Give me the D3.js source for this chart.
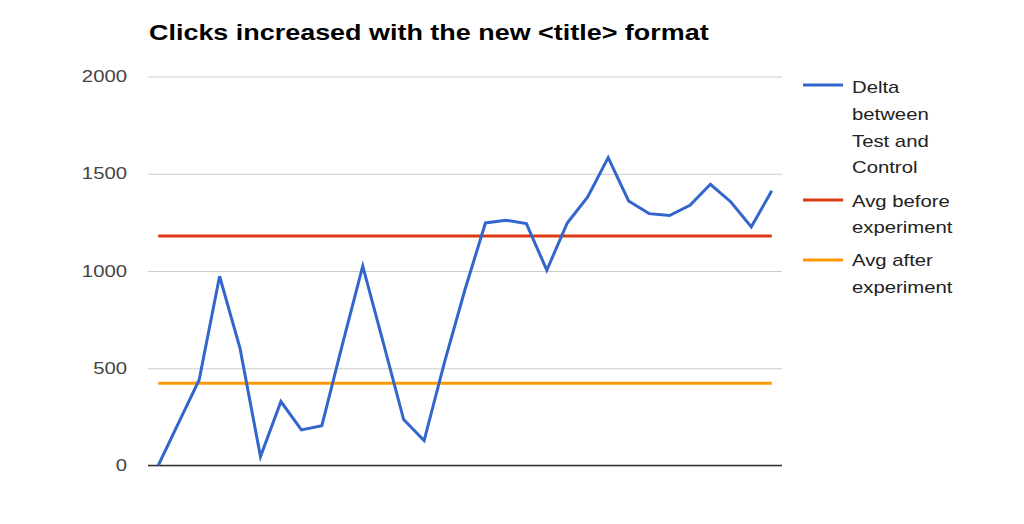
<!DOCTYPE html>
<html><head><meta charset="utf-8">
<script src="https://cdn.jsdelivr.net/npm/d3@7"></script>
<style>body{margin:0;background:#fff}svg{display:block}text{font-family:"Liberation Sans",Arial,sans-serif}</style>
</head><body><svg id="c" width="1024" height="524"></svg>
<script>
const title = "Clicks increased with the new <title> format";
const delta = [0,220,440,973,602,46,329,183,205,620,1025,633,236,128,532,905,1247,1261,1244,1004,1247,1381,1583,1360,1295,1285,1338,1446,1355,1227,1412];
const avgBefore = 1180;
const avgAfter = 423;
const yTicks = [0,500,1000,1500,2000];
const seriesNames = [["Delta","between","Test and","Control"],["Avg before","experiment"],["Avg after","experiment"]];
const seriesColors = ["#3366cc","#dc3912","#ff9900"];

const SX = 1.27;
const svg = d3.select("#c");
const pL = 148, pR = 782, pT = 76.5, pB = 465.5;
const idx = d3.range(delta.length);
const x = d3.scalePoint().domain(idx).range([pL, pR]).padding(0.5);
const y = d3.scaleLinear().domain([0,2000]).range([pB, pT]);

// gridlines
const grid = d3.axisLeft(y).tickValues(yTicks).tickSize(-(pR-pL)).tickFormat("");
svg.append("g").attr("transform",`translate(${pL},0)`).call(grid)
  .call(g=>g.select(".domain").remove())
  .call(g=>g.selectAll("line").attr("stroke","#cccccc").attr("stroke-width",1));

// tick labels
svg.selectAll("text.yl").data(yTicks).join("text").attr("class","yl")
  .attr("transform",d=>`translate(127,${y(d)+5.5}) scale(${SX},1)`)
  .attr("text-anchor","end").attr("font-size",16).attr("fill","#444").text(d=>d);

// baseline
svg.append("line").attr("x1",pL).attr("x2",pR).attr("y1",y(0)).attr("y2",y(0))
  .attr("stroke","#333").attr("stroke-width",1.5);

const line = d3.line().x((d,i)=>x(i)).y(d=>y(d));
svg.append("path").datum(idx.map(()=>avgBefore)).attr("d",line).attr("fill","none")
  .attr("stroke",seriesColors[1]).attr("stroke-width",3);
svg.append("path").datum(idx.map(()=>avgAfter)).attr("d",line).attr("fill","none")
  .attr("stroke",seriesColors[2]).attr("stroke-width",3);
svg.append("path").datum(delta).attr("d",line).attr("fill","none")
  .attr("stroke",seriesColors[0]).attr("stroke-width",3).attr("stroke-linejoin","miter");

// title
svg.append("text").attr("transform",`translate(149,40) scale(1.225,1)`)
  .attr("font-size",22).attr("font-weight","bold").attr("fill","#000").text(title);

// legend
const legY = [85,200,260];
const legTextY = [[93,120,147,173],[207,233],[266,293]];
seriesNames.forEach((names,k)=>{
  svg.append("line").attr("x1",803).attr("x2",843).attr("y1",legY[k]).attr("y2",legY[k])
    .attr("stroke",seriesColors[k]).attr("stroke-width",3);
  names.forEach((n,j)=>{
    svg.append("text").attr("transform",`translate(852,${legTextY[k][j]}) scale(${SX},1)`)
      .attr("font-size",16).attr("fill","#222").text(n);
  });
});
</script></body></html>
